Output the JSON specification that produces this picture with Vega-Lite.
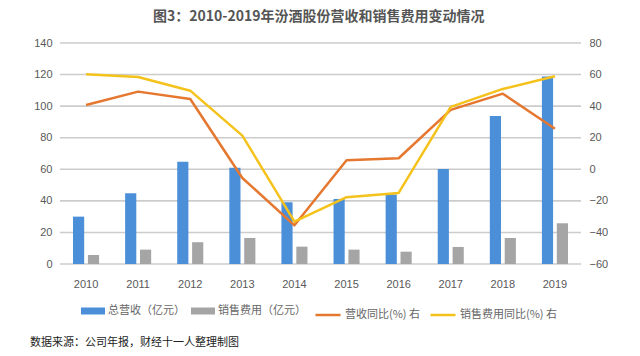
{
  "$schema": "https://vega.github.io/schema/vega-lite/v6.json",
  "background": "white",
  "padding": {"left": 30, "top": 10, "right": 8, "bottom": 4},
  "title": {"text": "图3：2010-2019年汾酒股份营收和销售费用变动情况", "font": "Noto Sans CJK SC", "fontSize": 14, "fontWeight": "bold", "color": "#555555", "anchor": "middle", "offset": 13},
  "spacing": 17,
  "resolve": {"scale": {"color": "independent", "stroke": "independent"}, "legend": {"color": "independent", "stroke": "independent"}},
  "config": {
    "view": {"stroke": null},
    "font": "Noto Sans CJK SC",
    "axis": {"labelFont": "Liberation Sans", "labelFontSize": 11, "labelColor": "#595959", "domain": false, "ticks": false, "title": null},
    "legend": {"labelFont": "Noto Sans CJK SC", "labelFontSize": 11, "labelColor": "#666666", "orient": "bottom", "direction": "horizontal", "title": null, "layout": {"bottom": {"anchor": "middle", "direction": "horizontal", "margin": 8}}}
  },
  "datasets": {
    "gridticks": [{"g": 0}, {"g": 20}, {"g": 40}, {"g": 60}, {"g": 80}, {"g": 100}, {"g": 120}, {"g": 140}],
    "bars": [
      {"year": "2010", "series": "总营收（亿元）", "value": 30.0},
      {"year": "2010", "series": "销售费用（亿元）", "value": 5.7},
      {"year": "2011", "series": "总营收（亿元）", "value": 44.8},
      {"year": "2011", "series": "销售费用（亿元）", "value": 9.1},
      {"year": "2012", "series": "总营收（亿元）", "value": 64.7},
      {"year": "2012", "series": "销售费用（亿元）", "value": 13.8},
      {"year": "2013", "series": "总营收（亿元）", "value": 60.9},
      {"year": "2013", "series": "销售费用（亿元）", "value": 16.5},
      {"year": "2014", "series": "总营收（亿元）", "value": 39.1},
      {"year": "2014", "series": "销售费用（亿元）", "value": 11.0},
      {"year": "2015", "series": "总营收（亿元）", "value": 41.2},
      {"year": "2015", "series": "销售费用（亿元）", "value": 9.1},
      {"year": "2016", "series": "总营收（亿元）", "value": 44.0},
      {"year": "2016", "series": "销售费用（亿元）", "value": 7.8},
      {"year": "2017", "series": "总营收（亿元）", "value": 60.2},
      {"year": "2017", "series": "销售费用（亿元）", "value": 10.8},
      {"year": "2018", "series": "总营收（亿元）", "value": 93.8},
      {"year": "2018", "series": "销售费用（亿元）", "value": 16.5},
      {"year": "2019", "series": "总营收（亿元）", "value": 118.8},
      {"year": "2019", "series": "销售费用（亿元）", "value": 25.8}
    ],
    "lines": [
      {"year": "2010", "series": "营收同比(%) 右", "value": 40.7},
      {"year": "2011", "series": "营收同比(%) 右", "value": 49.2},
      {"year": "2012", "series": "营收同比(%) 右", "value": 44.5},
      {"year": "2013", "series": "营收同比(%) 右", "value": -5.5},
      {"year": "2014", "series": "营收同比(%) 右", "value": -35.5},
      {"year": "2015", "series": "营收同比(%) 右", "value": 5.7},
      {"year": "2016", "series": "营收同比(%) 右", "value": 7.0},
      {"year": "2017", "series": "营收同比(%) 右", "value": 37.6},
      {"year": "2018", "series": "营收同比(%) 右", "value": 47.9},
      {"year": "2019", "series": "营收同比(%) 右", "value": 25.7},
      {"year": "2010", "series": "销售费用同比(%) 右", "value": 60.2},
      {"year": "2011", "series": "销售费用同比(%) 右", "value": 58.5},
      {"year": "2012", "series": "销售费用同比(%) 右", "value": 49.8},
      {"year": "2013", "series": "销售费用同比(%) 右", "value": 21.3},
      {"year": "2014", "series": "销售费用同比(%) 右", "value": -33.2},
      {"year": "2015", "series": "销售费用同比(%) 右", "value": -17.7},
      {"year": "2016", "series": "销售费用同比(%) 右", "value": -15.0},
      {"year": "2017", "series": "销售费用同比(%) 右", "value": 39.5},
      {"year": "2018", "series": "销售费用同比(%) 右", "value": 50.9},
      {"year": "2019", "series": "销售费用同比(%) 右", "value": 58.9}
    ],
    "empty": []
  },
  "vconcat": [
    {
      "width": 521,
      "height": 221,
      "layer": [
        {
          "data": {"name": "gridticks"},
          "mark": {"type": "rule", "color": "#cccccc", "strokeWidth": 1.6},
          "encoding": {
            "y": {"field": "g", "type": "quantitative", "scale": {"domain": [0, 140], "nice": false}, "axis": null}
          }
        },
        {
          "data": {"name": "bars"},
          "mark": {"type": "bar"},
          "encoding": {
            "x": {"field": "year", "type": "nominal", "scale": {"paddingInner": 0.5, "paddingOuter": 0.25}, "axis": {"labelAngle": 0, "labelPadding": 14, "grid": false}},
            "xOffset": {"field": "series", "type": "nominal", "scale": {"domain": ["总营收（亿元）", "销售费用（亿元）"], "paddingInner": 0.25}},
            "y": {"field": "value", "type": "quantitative", "scale": {"domain": [0, 140], "nice": false}, "axis": {"orient": "left", "grid": false, "values": [0, 20, 40, 60, 80, 100, 120, 140], "labelPadding": 8}},
            "color": {"field": "series", "type": "nominal", "scale": {"domain": ["总营收（亿元）", "销售费用（亿元）"], "range": ["#4A8FD8", "#A5A5A5"]}, "legend": {"symbolType": "M-1.2,-0.35H1.2V0.35H-1.2Z", "symbolSize": 400, "symbolStrokeWidth": 0, "columnPadding": 6, "labelOffset": 5, "offset": 12}}
          }
        },
        {
          "data": {"name": "lines"},
          "mark": {"type": "line", "strokeWidth": 2.5, "strokeJoin": "round"},
          "encoding": {
            "x": {"field": "year", "type": "nominal"},
            "y": {"field": "value", "type": "quantitative", "scale": {"domain": [-60, 80], "nice": false}, "axis": {"orient": "right", "grid": false, "values": [-60, -40, -20, 0, 20, 40, 60, 80], "labelPadding": 8}},
            "stroke": {"field": "series", "type": "nominal", "scale": {"domain": ["营收同比(%) 右", "销售费用同比(%) 右"], "range": ["#E5772F", "#F5C21B"]}, "legend": {"symbolType": "stroke", "symbolSize": 625, "symbolStrokeWidth": 2.5, "columnPadding": 4, "labelOffset": 3, "offset": 12}}
          }
        }
      ],
      "resolve": {"scale": {"y": "independent"}}
    },
    {
      "width": 521,
      "height": 1,
      "data": {"name": "empty"},
      "mark": {"type": "rule"},
      "encoding": {},
      "title": {"text": "数据来源：公司年报，财经十一人整理制图", "orient": "top", "anchor": "start", "frame": "group", "dx": -30, "font": "Noto Sans CJK SC", "fontSize": 11, "fontWeight": "normal", "color": "#222222", "offset": 0}
    }
  ]
}
